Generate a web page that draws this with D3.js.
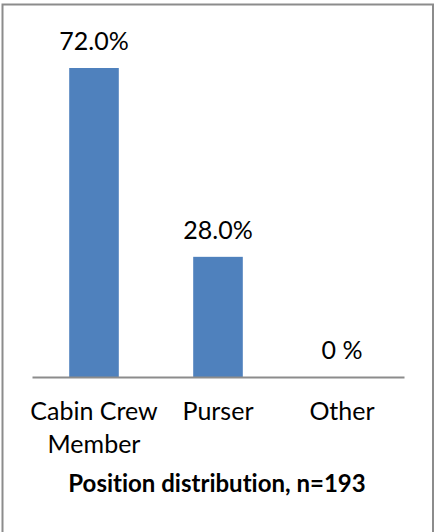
<!DOCTYPE html>
<html>
<head>
<meta charset="utf-8">
<script src="https://cdn.jsdelivr.net/npm/d3@7/dist/d3.min.js"></script>
<style>
  html, body { margin: 0; padding: 0; background: #fff; }
  svg { display: block; font-family: Lato, "Open Sans", sans-serif; font-variant-ligatures: none; }
</style>
</head>
<body>
<svg id="chart" width="435" height="532"></svg>
<script>
// Position distribution of respondents
const categories = ["Cabin Crew Member", "Purser", "Other"];
const categoryLines = [["Cabin Crew", "Member"], ["Purser"], ["Other"]];
const values = [72.0, 28.0, 0];
const valueLabels = ["72.0%", "28.0%", "0 %"];
const title = "Position distribution, n=193";

const svg = d3.select("#chart");
const W = 435, H = 532;

// outer frame
svg.append("rect")
  .attr("x", 2.5).attr("y", 4.5)
  .attr("width", 430.5).attr("height", H)
  .attr("fill", "#fff")
  .attr("stroke", "#8c8c8c")
  .attr("stroke-width", 2);

const x = d3.scaleBand()
  .domain(categories)
  .range([32, 404])
  .paddingInner(0.6)
  .paddingOuter(0.3);

const y = d3.scaleLinear()
  .domain([0, 72])
  .range([377, 68]);

const fontSize = 25;

// bars
svg.append("g").selectAll("rect")
  .data(values)
  .join("rect")
  .attr("x", (d, i) => x(categories[i]))
  .attr("y", d => y(d))
  .attr("width", x.bandwidth())
  .attr("height", d => y(0) - y(d))
  .attr("fill", "#4f81bd");

// baseline axis
const axis = svg.append("g")
  .attr("transform", `translate(0,${y(0)})`)
  .call(d3.axisBottom(x).tickSize(0).tickFormat(""));
axis.select(".domain").attr("stroke", "#8c8c8c").attr("stroke-width", 2);

// value labels
svg.append("g").selectAll("text")
  .data(values)
  .join("text")
  .attr("x", (d, i) => x(categories[i]) + x.bandwidth() / 2)
  .attr("y", d => y(d) - 18)
  .attr("text-anchor", "middle")
  .attr("font-size", fontSize)
  .attr("fill", "#000")
  .text((d, i) => valueLabels[i]);

// category labels
const cat = svg.append("g").selectAll("text")
  .data(categories)
  .join("text")
  .attr("x", d => x(d) + x.bandwidth() / 2)
  .attr("y", 420)
  .attr("text-anchor", "middle")
  .attr("font-size", fontSize)
  .attr("fill", "#000");
cat.each(function(d, i) {
  const t = d3.select(this);
  categoryLines[i].forEach((line, j) => {
    t.append("tspan")
      .attr("x", x(d) + x.bandwidth() / 2)
      .attr("dy", j === 0 ? 0 : 33)
      .text(line);
  });
});

// title
svg.append("text")
  .attr("x", 217)
  .attr("y", 492)
  .attr("text-anchor", "middle")
  .attr("font-size", 24)
  .attr("font-weight", "bold")
  .attr("fill", "#000")
  .text(title);
</script>
</body>
</html>
